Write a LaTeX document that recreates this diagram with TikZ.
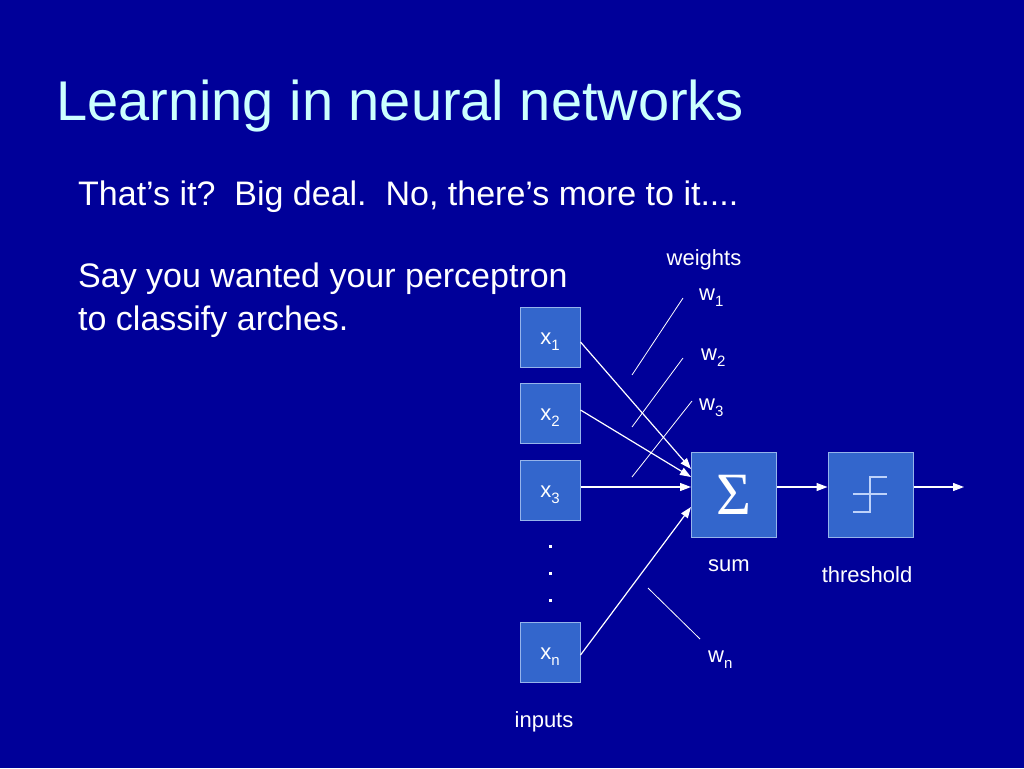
\documentclass[tikz,border=0pt]{standalone}
\usepackage{fontspec}
\setmainfont{Liberation Sans}
\newfontfamily\sigmafont{Liberation Serif}
\usepackage{tikz}
\usetikzlibrary{arrows.meta,positioning,calc}
\definecolor{slideBg}{RGB}{0,0,153}
\definecolor{titleCol}{RGB}{204,255,255}
\definecolor{boxFill}{RGB}{51,102,204}
\definecolor{boxLine}{RGB}{150,180,235}
\definecolor{stepCol}{RGB}{190,210,250}
\newcommand{\lowidx}[1]{\raisebox{-0.28em}{\fontsize{15}{15}\selectfont #1}}

\begin{document}
\begin{tikzpicture}[x=1pt,y=-1pt,
    unitbox/.style={draw=boxLine,fill=boxFill,line width=1pt,minimum size=60pt,inner sep=0pt},
    bigbox/.style={unitbox,minimum size=85pt},
    lbl/.style={text=white,font=\fontsize{22}{26}\selectfont,inner sep=0pt},
    inlbl/.style={label={[lbl,yshift=-5pt]center:#1}},
    bodytext/.style={anchor=base west,inner sep=0pt,text=white,font=\fontsize{34}{40}\selectfont},
    conn/.style={white,line width=1.2pt,-{Triangle[length=11pt,width=8pt]}},
    wline/.style={white,line width=0.8pt}]
        % slide background
        \fill[slideBg] (0,0) rectangle (1024,768);
        \useasboundingbox (0,0) rectangle (1024,768);
        % title and text
        \node[anchor=base west,inner sep=0pt,text=titleCol,font=\fontsize{56}{60}\selectfont] (title) at (56,120) {Learning in neural networks};
        \node[bodytext] (intro) at (78,205) {That’s it?\ \ Big deal.\ \ No, there’s more to it....};
        \node[bodytext] (say1) at (78,287) {Say you wanted your perceptron};
        \node[bodytext] (say2) at (78,330) {to classify arches.};
        % inputs
        \node[unitbox,inlbl={x\lowidx{1}}] (x1) at (550,337) {};
        \node[unitbox,inlbl={x\lowidx{2}}] (x2) at (550,413) {};
        \node[unitbox,inlbl={x\lowidx{3}}] (x3) at (550,490) {};
        \node[unitbox,inlbl={x\lowidx{n}}] (xn) at (550,652) {};
        \foreach \yy in {546,573,600}
          \fill[white] (548.5,\yy-1.5) rectangle ++(3.5,3.5);
        \node[lbl,anchor=base] (inputs) at (544,727) {inputs};
        % sum and threshold
        \node[bigbox,text=white] (sum) at (734,494.5) {\sigmafont\fontsize{60}{60}\selectfont Σ};
        \node[bigbox] (thresh) at (870.5,494.5) {};
        \draw[stepCol,line width=1.2pt] (853,494) -- (887,494);
        \draw[stepCol,line width=1.2pt] (853,512) -- (870,512) -- (870,477) -- (887,477);
        \node[lbl,anchor=base] (sumlbl) at (729,571) {sum};
        \node[lbl,anchor=base] (threshlbl) at (867,582) {threshold};
        \coordinate (out) at (964,487);
        % connectors
        \draw[conn] ([yshift=-5pt]x1.east) -- ([yshift=25.5pt]sum.west);
        \draw[conn] ([yshift=3pt]x2.east) -- ([yshift=17.5pt]sum.west);
        \draw[conn] ([yshift=3pt]x3.east) -- ([yshift=7.5pt]sum.west);
        \draw[conn] ([yshift=-3pt]xn.east) -- ([yshift=-12.5pt]sum.west);
        \draw[conn] ([yshift=7.5pt]sum.east) -- ([yshift=7.5pt]thresh.west);
        \draw[conn] ([yshift=7.5pt]thresh.east) -- (out);
        % weights
        \node[lbl,anchor=base] (weights) at (704,265) {weights};
        \draw[wline] (683,298) -- (632,375);
        \draw[wline] (683,358) -- (632,427);
        \draw[wline] (692,401) -- (632,477);
        \draw[wline] (648,588) -- (700,639);
        \node[lbl,anchor=base west] (w1) at (699,300) {w\lowidx{1}};
        \node[lbl,anchor=base west] (w2) at (701,360) {w\lowidx{2}};
        \node[lbl,anchor=base west] (w3) at (699,410) {w\lowidx{3}};
        \node[lbl,anchor=base west] (wn) at (708,662) {w\lowidx{n}};
      \end{tikzpicture}
\end{document}
